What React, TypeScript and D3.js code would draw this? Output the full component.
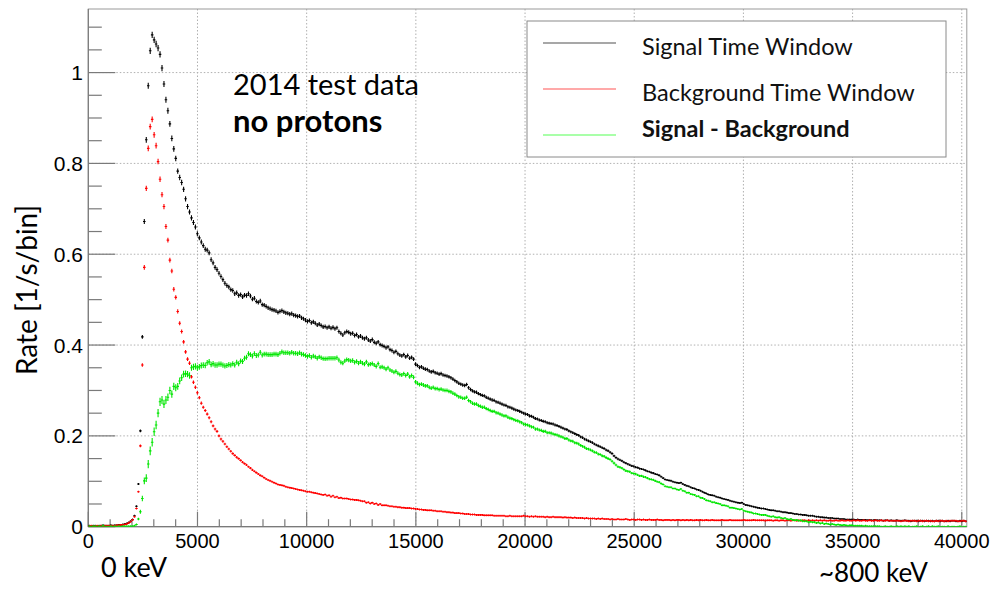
import React from "react";
import * as d3 from "d3";

// Histogram binning (detector units) and axis extent
const BIN_WIDTH = 90;
const X_MAX = 40230;
const Y_MAX = 1.14;

// Rate per bin, signal time window (bins of 90 units starting at 0)
const signalRate = [
  0.002, 0.001, 0.002, 0.002, 0.001, 0.002, 0.002, 0.003, 0.002, 0.002,
  0.002, 0.003, 0.002, 0.003, 0.003, 0.004, 0.004, 0.005, 0.006, 0.007,
  0.009, 0.012, 0.016, 0.024, 0.045, 0.094, 0.211, 0.418, 0.672, 0.852,
  0.971, 1.048, 1.083, 1.072, 1.063, 1.054, 1.040, 1.010, 0.975, 0.940,
  0.916, 0.887, 0.855, 0.832, 0.811, 0.783, 0.769, 0.758, 0.743, 0.722,
  0.705, 0.693, 0.680, 0.670, 0.660, 0.645, 0.636, 0.627, 0.619, 0.611,
  0.609, 0.603, 0.588, 0.581, 0.571, 0.566, 0.558, 0.551, 0.544, 0.536,
  0.531, 0.528, 0.522, 0.520, 0.513, 0.515, 0.509, 0.511, 0.506, 0.510,
  0.509, 0.513, 0.508, 0.501, 0.503, 0.496, 0.494, 0.497, 0.489, 0.488,
  0.485, 0.482, 0.480, 0.478, 0.477, 0.475, 0.472, 0.474, 0.476, 0.473,
  0.471, 0.470, 0.468, 0.469, 0.466, 0.465, 0.463, 0.464, 0.460, 0.458,
  0.455, 0.452, 0.454, 0.449, 0.451, 0.448, 0.444, 0.446, 0.443, 0.440,
  0.441, 0.438, 0.440, 0.437, 0.439, 0.436, 0.438, 0.430, 0.426, 0.422,
  0.427, 0.430, 0.428, 0.425, 0.426, 0.421, 0.423, 0.418, 0.420, 0.416,
  0.414, 0.416, 0.411, 0.409, 0.412, 0.406, 0.404, 0.407, 0.401, 0.399,
  0.397, 0.394, 0.396, 0.390, 0.388, 0.384, 0.386, 0.381, 0.378, 0.376,
  0.379, 0.374, 0.377, 0.371, 0.373, 0.369, 0.358, 0.355, 0.351, 0.352,
  0.349, 0.347, 0.346, 0.343, 0.341, 0.342, 0.339, 0.338, 0.336, 0.337,
  0.334, 0.333, 0.332, 0.330, 0.328, 0.325, 0.322, 0.319, 0.316, 0.314,
  0.312, 0.311, 0.313, 0.306, 0.302, 0.299, 0.297, 0.296, 0.293, 0.291,
  0.289, 0.288, 0.285, 0.283, 0.281, 0.279, 0.278, 0.275, 0.274, 0.272,
  0.270, 0.268, 0.267, 0.264, 0.263, 0.261, 0.259, 0.257, 0.256, 0.254,
  0.252, 0.250, 0.248, 0.247, 0.244, 0.243, 0.241, 0.238, 0.237, 0.235,
  0.234, 0.232, 0.231, 0.229, 0.228, 0.227, 0.226, 0.224, 0.223, 0.221,
  0.219, 0.217, 0.215, 0.214, 0.211, 0.209, 0.207, 0.205, 0.203, 0.201,
  0.198, 0.196, 0.193, 0.191, 0.189, 0.187, 0.185, 0.182, 0.180, 0.178,
  0.176, 0.174, 0.172, 0.169, 0.167, 0.164, 0.161, 0.156, 0.152, 0.149,
  0.147, 0.145, 0.142, 0.140, 0.138, 0.136, 0.134, 0.133, 0.131, 0.130,
  0.128, 0.127, 0.126, 0.124, 0.122, 0.121, 0.119, 0.118, 0.116, 0.115,
  0.113, 0.110, 0.107, 0.104, 0.103, 0.102, 0.101, 0.099, 0.098, 0.097,
  0.096, 0.097, 0.094, 0.092, 0.090, 0.089, 0.087, 0.085, 0.084, 0.082,
  0.081, 0.079, 0.077, 0.075, 0.073, 0.071, 0.070, 0.069, 0.068, 0.066,
  0.065, 0.064, 0.062, 0.061, 0.060, 0.059, 0.057, 0.056, 0.055, 0.054,
  0.053, 0.052, 0.053, 0.050, 0.048, 0.047, 0.046, 0.045, 0.044, 0.043,
  0.042, 0.041, 0.040, 0.040, 0.039, 0.038, 0.037, 0.036, 0.036, 0.035,
  0.034, 0.034, 0.033, 0.032, 0.032, 0.031, 0.030, 0.030, 0.029, 0.028,
  0.028, 0.027, 0.027, 0.026, 0.026, 0.025, 0.024, 0.024, 0.024, 0.023,
  0.022, 0.022, 0.021, 0.021, 0.020, 0.020, 0.019, 0.019, 0.019, 0.018,
  0.018, 0.018, 0.017, 0.017, 0.017, 0.016, 0.016, 0.016, 0.016, 0.016,
  0.015, 0.016, 0.015, 0.015, 0.015, 0.015, 0.014, 0.015, 0.014, 0.014,
  0.015, 0.014, 0.014, 0.014, 0.013, 0.014, 0.014, 0.013, 0.014, 0.013,
  0.013, 0.014, 0.013, 0.013, 0.013, 0.014, 0.013, 0.013, 0.012, 0.013,
  0.013, 0.013, 0.012, 0.013, 0.013, 0.012, 0.013, 0.013, 0.012, 0.013,
  0.012, 0.013, 0.013, 0.012, 0.013, 0.012, 0.012, 0.013, 0.012, 0.013,
  0.013, 0.012, 0.012, 0.013, 0.012, 0.013, 0.012,
];

// Rate per bin, background time window
const backgroundRate = [
  0.001, 0.002, 0.001, 0.001, 0.002, 0.001, 0.002, 0.001, 0.002, 0.002,
  0.002, 0.002, 0.002, 0.002, 0.003, 0.003, 0.004, 0.004, 0.005, 0.006,
  0.008, 0.011, 0.015, 0.022, 0.040, 0.077, 0.178, 0.356, 0.571, 0.745,
  0.833, 0.881, 0.897, 0.863, 0.839, 0.804, 0.765, 0.731, 0.705, 0.661,
  0.631, 0.587, 0.563, 0.523, 0.505, 0.474, 0.448, 0.430, 0.407, 0.385,
  0.369, 0.360, 0.330, 0.318, 0.307, 0.295, 0.284, 0.272, 0.263, 0.256,
  0.248, 0.240, 0.231, 0.222, 0.215, 0.210, 0.200, 0.193, 0.188, 0.182,
  0.176, 0.171, 0.166, 0.161, 0.157, 0.153, 0.150, 0.146, 0.142, 0.139,
  0.136, 0.132, 0.129, 0.125, 0.122, 0.119, 0.116, 0.113, 0.111, 0.108,
  0.105, 0.103, 0.101, 0.099, 0.097, 0.095, 0.093, 0.092, 0.091, 0.090,
  0.088, 0.087, 0.086, 0.085, 0.084, 0.083, 0.082, 0.081, 0.080, 0.079,
  0.078, 0.077, 0.077, 0.076, 0.075, 0.074, 0.073, 0.072, 0.071, 0.070,
  0.071, 0.068, 0.069, 0.066, 0.068, 0.065, 0.066, 0.063, 0.064, 0.062,
  0.062, 0.062, 0.061, 0.060, 0.060, 0.059, 0.059, 0.058, 0.057, 0.056,
  0.056, 0.053, 0.054, 0.051, 0.053, 0.050, 0.051, 0.048, 0.050, 0.047,
  0.047, 0.047, 0.046, 0.045, 0.045, 0.044, 0.044, 0.043, 0.043, 0.042,
  0.042, 0.041, 0.041, 0.041, 0.040, 0.040, 0.039, 0.039, 0.038, 0.038,
  0.037, 0.037, 0.036, 0.036, 0.036, 0.035, 0.035, 0.034, 0.034, 0.034,
  0.033, 0.033, 0.032, 0.032, 0.031, 0.031, 0.030, 0.030, 0.030, 0.029,
  0.029, 0.028, 0.028, 0.028, 0.027, 0.027, 0.027, 0.026, 0.026, 0.026,
  0.026, 0.025, 0.025, 0.025, 0.025, 0.025, 0.024, 0.024, 0.024, 0.024,
  0.024, 0.024, 0.023, 0.023, 0.024, 0.023, 0.023, 0.023, 0.023, 0.023,
  0.023, 0.024, 0.023, 0.023, 0.022, 0.023, 0.022, 0.023, 0.022, 0.022,
  0.022, 0.022, 0.021, 0.022, 0.021, 0.021, 0.022, 0.021, 0.021, 0.021,
  0.021, 0.020, 0.021, 0.020, 0.020, 0.020, 0.019, 0.020, 0.019, 0.019,
  0.019, 0.019, 0.018, 0.019, 0.018, 0.018, 0.018, 0.018, 0.017, 0.018,
  0.017, 0.018, 0.017, 0.017, 0.017, 0.016, 0.017, 0.016, 0.016, 0.017,
  0.016, 0.016, 0.016, 0.017, 0.016, 0.015, 0.016, 0.016, 0.015, 0.016,
  0.016, 0.015, 0.016, 0.015, 0.015, 0.016, 0.015, 0.015, 0.015, 0.016,
  0.015, 0.015, 0.014, 0.015, 0.015, 0.015, 0.014, 0.015, 0.014, 0.015,
  0.015, 0.014, 0.015, 0.014, 0.015, 0.014, 0.015, 0.014, 0.014, 0.015,
  0.014, 0.015, 0.014, 0.014, 0.015, 0.014, 0.014, 0.015, 0.014, 0.014,
  0.014, 0.014, 0.015, 0.014, 0.014, 0.014, 0.015, 0.014, 0.014, 0.014,
  0.014, 0.014, 0.014, 0.015, 0.014, 0.014, 0.014, 0.014, 0.015, 0.014,
  0.014, 0.014, 0.014, 0.014, 0.013, 0.014, 0.014, 0.014, 0.013, 0.014,
  0.014, 0.013, 0.014, 0.014, 0.013, 0.014, 0.014, 0.013, 0.014, 0.014,
  0.013, 0.014, 0.013, 0.014, 0.014, 0.013, 0.014, 0.013, 0.014, 0.013,
  0.014, 0.013, 0.014, 0.013, 0.014, 0.013, 0.013, 0.014, 0.013, 0.013,
  0.014, 0.013, 0.013, 0.014, 0.013, 0.013, 0.014, 0.013, 0.013, 0.014,
  0.013, 0.014, 0.013, 0.013, 0.014, 0.013, 0.013, 0.014, 0.013, 0.013,
  0.014, 0.013, 0.013, 0.014, 0.013, 0.013, 0.014, 0.013, 0.013, 0.013,
  0.013, 0.013, 0.013, 0.012, 0.013, 0.013, 0.013, 0.012, 0.013, 0.013,
  0.013, 0.012, 0.013, 0.013, 0.012, 0.013, 0.013, 0.012, 0.013, 0.012,
  0.012, 0.013, 0.012, 0.013, 0.013, 0.012, 0.013, 0.012, 0.013, 0.013,
  0.013, 0.013, 0.012, 0.012, 0.013, 0.013, 0.012,
];

// Rate per bin, signal minus background
const differenceRate = [
  0.001, 0.000, 0.001, 0.001, 0.000, 0.001, 0.000, 0.002, 0.000, 0.000,
  0.000, 0.001, 0.000, 0.001, 0.000, 0.001, 0.000, 0.001, 0.001, 0.001,
  0.001, 0.001, 0.001, 0.002, 0.005, 0.017, 0.033, 0.062, 0.101, 0.107,
  0.138, 0.167, 0.186, 0.209, 0.224, 0.250, 0.275, 0.279, 0.270, 0.279,
  0.285, 0.300, 0.292, 0.309, 0.306, 0.309, 0.321, 0.328, 0.336, 0.337,
  0.336, 0.333, 0.350, 0.352, 0.353, 0.350, 0.352, 0.355, 0.356, 0.355,
  0.361, 0.363, 0.357, 0.359, 0.356, 0.356, 0.358, 0.358, 0.356, 0.354,
  0.355, 0.357, 0.356, 0.359, 0.356, 0.362, 0.359, 0.365, 0.364, 0.371,
  0.373, 0.381, 0.379, 0.376, 0.381, 0.377, 0.378, 0.384, 0.378, 0.380,
  0.380, 0.379, 0.379, 0.379, 0.380, 0.380, 0.379, 0.382, 0.385, 0.383,
  0.383, 0.383, 0.382, 0.384, 0.382, 0.382, 0.381, 0.383, 0.380, 0.379,
  0.377, 0.375, 0.377, 0.373, 0.376, 0.374, 0.371, 0.374, 0.372, 0.370,
  0.370, 0.370, 0.371, 0.371, 0.371, 0.371, 0.372, 0.367, 0.362, 0.360,
  0.365, 0.368, 0.367, 0.365, 0.366, 0.362, 0.364, 0.360, 0.363, 0.360,
  0.358, 0.363, 0.357, 0.358, 0.359, 0.356, 0.353, 0.359, 0.351, 0.352,
  0.350, 0.347, 0.350, 0.345, 0.343, 0.340, 0.342, 0.338, 0.335, 0.334,
  0.337, 0.333, 0.336, 0.330, 0.333, 0.329, 0.319, 0.316, 0.313, 0.314,
  0.312, 0.310, 0.310, 0.307, 0.305, 0.307, 0.304, 0.304, 0.302, 0.303,
  0.301, 0.300, 0.300, 0.298, 0.297, 0.294, 0.292, 0.289, 0.286, 0.285,
  0.283, 0.283, 0.285, 0.278, 0.275, 0.272, 0.270, 0.270, 0.267, 0.265,
  0.263, 0.263, 0.260, 0.258, 0.256, 0.254, 0.254, 0.251, 0.250, 0.248,
  0.246, 0.244, 0.244, 0.241, 0.239, 0.238, 0.236, 0.234, 0.233, 0.231,
  0.229, 0.226, 0.225, 0.224, 0.222, 0.220, 0.219, 0.215, 0.215, 0.213,
  0.212, 0.210, 0.210, 0.207, 0.207, 0.206, 0.204, 0.203, 0.202, 0.200,
  0.198, 0.197, 0.194, 0.194, 0.191, 0.189, 0.188, 0.185, 0.184, 0.182,
  0.179, 0.177, 0.175, 0.172, 0.171, 0.169, 0.167, 0.164, 0.163, 0.160,
  0.159, 0.156, 0.155, 0.152, 0.150, 0.148, 0.144, 0.140, 0.136, 0.132,
  0.131, 0.129, 0.126, 0.123, 0.122, 0.121, 0.118, 0.117, 0.116, 0.114,
  0.112, 0.112, 0.110, 0.109, 0.107, 0.105, 0.104, 0.103, 0.101, 0.099,
  0.098, 0.095, 0.093, 0.089, 0.088, 0.087, 0.087, 0.084, 0.084, 0.082,
  0.081, 0.083, 0.079, 0.078, 0.075, 0.075, 0.072, 0.071, 0.070, 0.067,
  0.067, 0.064, 0.063, 0.061, 0.058, 0.057, 0.056, 0.054, 0.054, 0.052,
  0.051, 0.050, 0.047, 0.047, 0.046, 0.045, 0.042, 0.042, 0.041, 0.040,
  0.039, 0.038, 0.039, 0.035, 0.034, 0.033, 0.032, 0.031, 0.029, 0.029,
  0.028, 0.027, 0.026, 0.026, 0.026, 0.024, 0.023, 0.022, 0.023, 0.021,
  0.020, 0.021, 0.019, 0.018, 0.019, 0.017, 0.016, 0.017, 0.015, 0.014,
  0.015, 0.013, 0.014, 0.012, 0.012, 0.012, 0.010, 0.011, 0.010, 0.010,
  0.008, 0.009, 0.007, 0.008, 0.006, 0.007, 0.006, 0.005, 0.006, 0.005,
  0.004, 0.005, 0.004, 0.003, 0.004, 0.003, 0.002, 0.003, 0.003, 0.002,
  0.002, 0.002, 0.002, 0.002, 0.001, 0.002, 0.001, 0.001, 0.001, 0.001,
  0.001, 0.001, 0.001, 0.000, 0.000, 0.001, 0.000, 0.000, 0.001, 0.000,
  0.000, 0.001, 0.000, 0.001, 0.000, 0.001, 0.000, 0.001, -0.001, 0.000,
  0.000, 0.001, -0.001, 0.000, 0.001, -0.001, 0.000, 0.001, -0.001, 0.001,
  0.000, 0.000, 0.001, -0.001, 0.000, 0.000, -0.001, 0.001, -0.001, 0.000,
  0.000, -0.001, 0.000, 0.001, -0.001, 0.000, 0.000,
];

const xTicks = [0, 5000, 10000, 15000, 20000, 25000, 30000, 35000, 40000];
const yTicks = [0, 0.2, 0.4, 0.6, 0.8, 1];
const yTickLabels = ["0", "0.2", "0.4", "0.6", "0.8", "1"];

const legendItems = [
  { label: "Signal Time Window", color: "#8a8a8a", bold: false },
  { label: "Background Time Window", color: "#ff8c8c", bold: false },
  { label: "Signal - Background", color: "#8cff8c", bold: true },
];

const W = 993;
const H = 589;
const PLOT = { left: 88.3, right: 966.8, top: 9, bottom: 526.7 };

const AXIS_FONT = "'Liberation Sans', Arial, Helvetica, sans-serif";
const NOTE_FONT = "Lato, 'Open Sans', sans-serif";

type Series = { values: number[]; color: string; err: (i: number) => number };

export default function App() {
  const x = d3.scaleLinear().domain([0, X_MAX]).range([PLOT.left, PLOT.right]);
  const y = d3.scaleLinear().domain([0, Y_MAX]).range([PLOT.bottom, PLOT.top]);

  // statistical error bar half-length in pixels, from the rate in the bin
  const errPx = (rate: number) => 3.2 * Math.sqrt(Math.max(rate, 0) / 1.08);

  const series: Series[] = [
    { values: signalRate, color: "#000000", err: (i) => errPx(signalRate[i]) },
    { values: backgroundRate, color: "#ff0000", err: (i) => errPx(backgroundRate[i]) },
    {
      values: differenceRate,
      color: "#00e600",
      err: (i) => Math.sqrt(errPx(signalRate[i]) ** 2 + errPx(backgroundRate[i]) ** 2),
    },
  ];

  const xMinor = d3.range(0, 40001, 1000);
  const yMinor = d3.range(0, 1.1001, 0.05);

  const axisColor = "#7a7a7a";
  const gridColor = "#b0b0b0";

  return (
    <svg
      width={W}
      height={H}
      viewBox={`0 0 ${W} ${H}`}
      style={{ position: "absolute", left: 0, top: 0, background: "#fff" }}
    >
      <defs>
        <clipPath id="plot-area">
          <rect
            x={PLOT.left}
            y={PLOT.top}
            width={PLOT.right - PLOT.left}
            height={PLOT.bottom - PLOT.top}
          />
        </clipPath>
      </defs>
      <rect x={0} y={0} width={W} height={H} fill="#fff" />

      {/* grid */}
      <g stroke={gridColor} strokeWidth={1} strokeDasharray="1.5,2">
        {xTicks
          .filter((t) => t > 0)
          .map((t) => (
            <line key={`gx${t}`} x1={x(t)} x2={x(t)} y1={PLOT.top} y2={PLOT.bottom} />
          ))}
        {yTicks
          .filter((t) => t > 0)
          .map((t) => (
            <line key={`gy${t}`} x1={PLOT.left} x2={PLOT.right} y1={y(t)} y2={y(t)} />
          ))}
      </g>

      {/* frame */}
      <rect
        x={PLOT.left}
        y={PLOT.top}
        width={PLOT.right - PLOT.left}
        height={PLOT.bottom - PLOT.top}
        fill="none"
        stroke="#9a9a9a"
        strokeWidth={1}
      />

      {/* ticks */}
      <g stroke={axisColor} strokeWidth={1.2}>
        {xMinor.map((t) => {
          const major = t % 5000 === 0;
          return (
            <line
              key={`tx${t}`}
              x1={x(t)}
              x2={x(t)}
              y1={PLOT.bottom}
              y2={PLOT.bottom - (major ? 15 : 7.5)}
            />
          );
        })}
        {yMinor.map((t, i) => {
          const major = i % 4 === 0;
          return (
            <line
              key={`ty${i}`}
              x1={PLOT.left}
              x2={PLOT.left + (major ? 27 : 13.5)}
              y1={y(t)}
              y2={y(t)}
            />
          );
        })}
        <line x1={PLOT.left} x2={PLOT.left} y1={PLOT.top} y2={PLOT.bottom} />
        <line x1={PLOT.left} x2={PLOT.right} y1={PLOT.bottom} y2={PLOT.bottom} />
      </g>

      {/* tick labels */}
      <g fontFamily={AXIS_FONT} fill="#000">
        {xTicks.map((t) => (
          <text key={`lx${t}`} x={x(t)} y={548} textAnchor="middle" fontSize={20}>
            {String(t)}
          </text>
        ))}
        {yTicks.map((t, i) => (
          <text key={`ly${t}`} x={83} y={y(t)} dy="0.36em" textAnchor="end" fontSize={21}>
            {yTickLabels[i]}
          </text>
        ))}
      </g>

      {/* data points with error bars */}
      <g clipPath="url(#plot-area)">
        {series.map((s, si) => (
          <g key={`s${si}`} stroke={s.color} strokeWidth={1.1} fill="none">
            {s.values.map((v, i) => {
              const x0 = x(i * BIN_WIDTH);
              const x1 = x((i + 1) * BIN_WIDTH);
              const cy = y(v);
              const e = Math.max(s.err(i), 1);
              const cx = (x0 + x1) / 2;
              return (
                <path
                  key={i}
                  d={`M${x0 - 0.3},${cy}H${x1 + 0.3}M${cx},${cy - e}V${cy + e}`}
                />
              );
            })}
          </g>
        ))}
      </g>

      {/* legend */}
      <g>
        <rect x={527} y={21} width={419} height={136} fill="#fff" stroke="#8a8a8a" strokeWidth={1} />
        {legendItems.map((d, i) => {
          const ly = [43, 89, 135][i];
          const ty = [54.5, 100.5, 137][i];
          return (
            <g key={d.label}>
              <line x1={543} x2={616} y1={ly} y2={ly} stroke={d.color} strokeWidth={1.6} />
              <text
                x={642}
                y={ty}
                fontFamily={NOTE_FONT}
                fontSize={23.5}
                fontWeight={d.bold ? 700 : 400}
                fill="#111"
              >
                {d.label}
              </text>
            </g>
          );
        })}
      </g>

      {/* annotations */}
      <g fontFamily={NOTE_FONT} fill="#000">
        <text x={233} y={95} fontSize={29}>
          2014 test data
        </text>
        <text x={233} y={132} fontSize={31} fontWeight={700}>
          no protons
        </text>
        <text x={101} y={577} fontSize={27}>
          0 keV
        </text>
        <text x={819} y={582} fontSize={26}>
          ~800 keV
        </text>
        <text
          transform="translate(37,290) rotate(-90)"
          textAnchor="middle"
          fontSize={28}
        >
          Rate [1/s/bin]
        </text>
      </g>
    </svg>
  );
}
